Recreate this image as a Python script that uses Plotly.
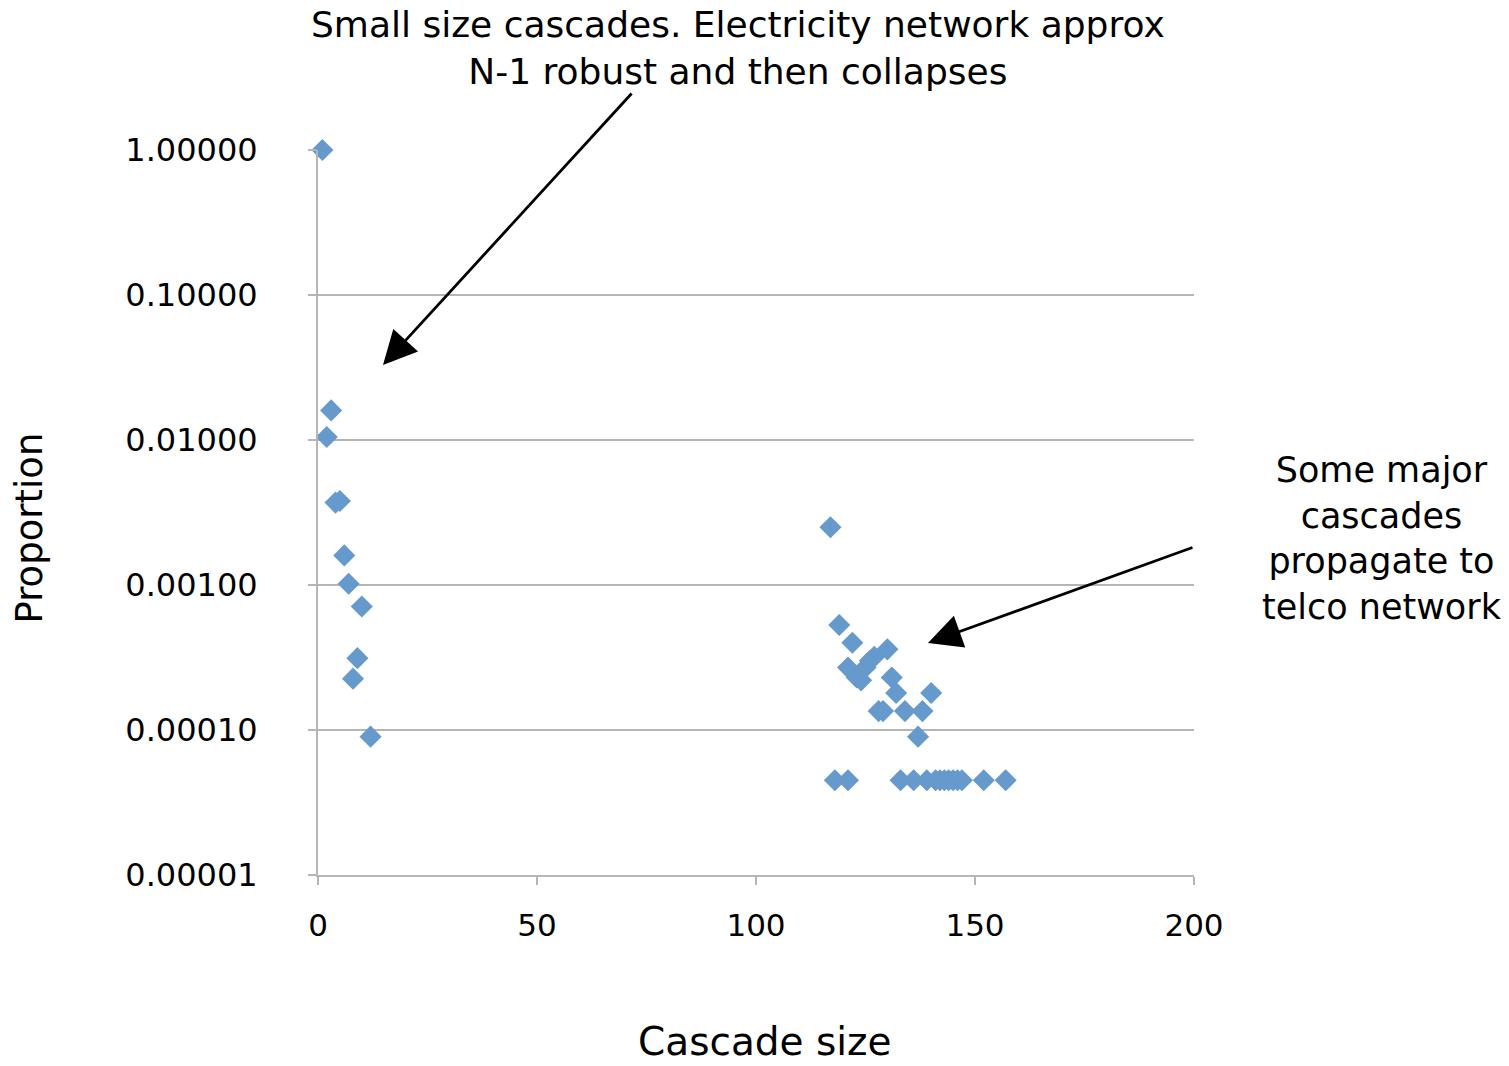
import plotly.graph_objects as go

# Cascade size vs proportion
cascade_size = [1, 2, 3, 4, 5, 6, 7, 8, 9, 10, 12,
                117, 119, 122, 121, 123, 124, 125, 126, 127, 130,
                131, 132, 128, 129, 134, 138, 140, 137,
                118, 121, 133, 136, 139, 141, 142, 143, 144, 145, 146, 147, 152, 157]
proportion = [1.0, 0.0105, 0.016, 0.0037, 0.0038, 0.0016, 0.00102, 0.000226, 0.000313, 0.00071, 0.00009,
              0.0025, 0.00053, 0.0004, 0.00027, 0.00023, 0.00022, 0.00027, 0.0003, 0.00032, 0.00036,
              0.00023, 0.00018, 0.000135, 0.000135, 0.000135, 0.000135, 0.00018, 0.00009,
              0.000045, 0.000045, 0.000045, 0.000045, 0.000045, 0.000045, 0.000045, 0.000045,
              0.000045, 0.000045, 0.000045, 0.000045, 0.000045, 0.000045]

x_ticks = [0, 50, 100, 150, 200]
y_ticks = [1, 0.1, 0.01, 0.001, 0.0001, 0.00001]
y_tick_text = ["1.00000", "0.10000", "0.01000", "0.00100", "0.00010", "0.00001"]

FONT = "DejaVu Sans"
GRID = "#b5b5b5"

fig = go.Figure()
fig.add_trace(go.Scatter(
    x=cascade_size, y=proportion, mode="markers",
    marker=dict(symbol="diamond", size=17, color="#6699cc", line=dict(width=0)),
    cliponaxis=False, showlegend=False,
))

fig.update_layout(
    width=1509, height=1066,
    margin=dict(l=318, r=315, t=150, b=191),
    paper_bgcolor="white", plot_bgcolor="white",
    font=dict(family=FONT, color="black"),
    xaxis=dict(range=[0, 200], tickvals=x_ticks, showgrid=False, zeroline=False,
               showline=True, linecolor=GRID, linewidth=2,
               ticks="outside", ticklen=8, tickwidth=2, tickcolor=GRID,
               tickfont=dict(family=FONT, size=31, color="black"),
               ticklabelstandoff=14),
    yaxis=dict(type="log", range=[-5, 0], tickvals=y_ticks, ticktext=y_tick_text,
               showgrid=True, gridcolor=GRID, gridwidth=2, zeroline=False,
               showline=True, linecolor=GRID, linewidth=2,
               ticks="outside", ticklen=8, tickwidth=2, tickcolor=GRID,
               tickfont=dict(family=FONT, size=32, color="black"),
               ticklabelstandoff=44),
)

annotations = [
    dict(text="Cascade size", xref="paper", yref="paper", x=0.510, y=-0.230,
         showarrow=False, font=dict(size=39, family=FONT), xanchor="center", yanchor="middle"),
    dict(text="Proportion", xref="paper", yref="paper", x=-0.329, y=0.479, textangle=-90,
         showarrow=False, font=dict(size=37, family=FONT), xanchor="center", yanchor="middle"),
    dict(text="Small size cascades. Electricity network approx<br>N-1 robust and then collapses",
         xref="paper", yref="paper", x=0.479, y=1.141, showarrow=False,
         font=dict(size=36, family=FONT), xanchor="center", yanchor="middle", align="center"),
    dict(text="Some major<br>cascades<br>propagate to<br>telco network",
         xref="paper", yref="paper", x=1.2146, y=0.464, showarrow=False,
         font=dict(size=35, family=FONT), xanchor="center", yanchor="middle", align="center"),
    dict(text="", xref="paper", yref="paper", x=0.0742, y=0.7034, ax=250, ay=-273,
         showarrow=True, arrowhead=2, arrowsize=2.4, arrowwidth=2.8, arrowcolor="black"),
    dict(text="", xref="paper", yref="paper", x=0.6963, y=0.32, ax=266, ay=-96,
         showarrow=True, arrowhead=2, arrowsize=2.4, arrowwidth=2.8, arrowcolor="black"),
]
fig.update_layout(annotations=annotations)

fig.write_html("out.html")
